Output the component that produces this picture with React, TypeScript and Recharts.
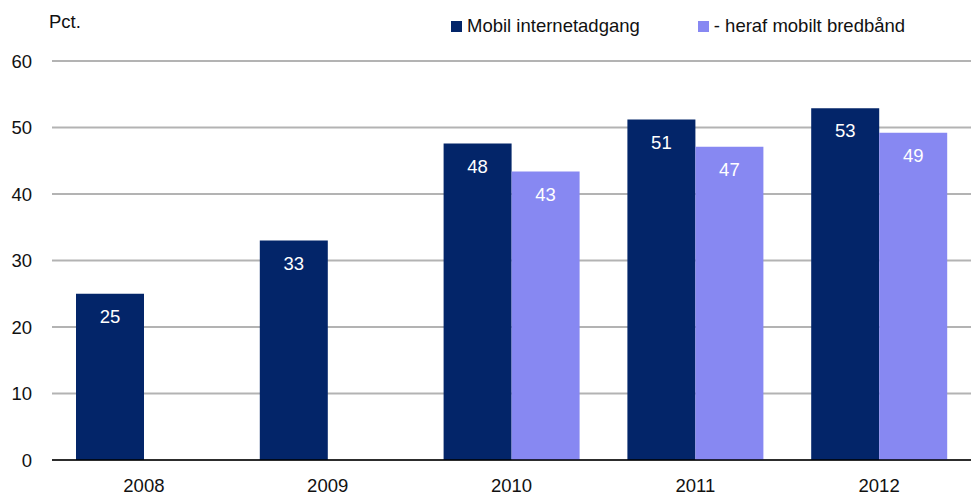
import React from 'react';
import {
  BarChart,
  Bar,
  XAxis,
  YAxis,
  CartesianGrid,
  Legend,
  LabelList
} from 'recharts';

const years = ['2008', '2009', '2010', '2011', '2012'];
const mobilInternet = [25, 33, 47.6, 51.2, 52.9];
const mobiltBredbaand: (number | null)[] = [null, null, 43.4, 47.1, 49.2];
const yTicks = [0, 10, 20, 30, 40, 50, 60];
const seriesOrder = ['mobil', 'bredbaand'];

const FONT = "'Liberation Sans', Arial, sans-serif";
const FS = 18.5;
const DARK = '#032569';
const LIGHT = '#8788f2';

const chartData = years.map((year, i) => ({
  year,
  mobil: mobilInternet[i],
  bredbaand: mobiltBredbaand[i]
}));

const fmt = (v: any) => (v === null || v === undefined ? '' : String(Math.round(Number(v))));

const LegendContent = (props: any) => {
  const items = [...(props.payload || [])].sort(
    (a: any, b: any) => seriesOrder.indexOf(a.dataKey) - seriesOrder.indexOf(b.dataKey)
  );
  return (
    <div style={{ display: 'flex', fontFamily: FONT, fontSize: FS, lineHeight: '20px', color: '#111' }}>
      {items.map((entry: any, i: number) => (
        <div key={i} style={{ display: 'flex', alignItems: 'center', marginRight: i === 0 ? 58 : 0 }}>
          <span style={{ width: 11, height: 11, background: entry.color, display: 'inline-block', marginRight: 5 }} />
          <span>{entry.value}</span>
        </div>
      ))}
    </div>
  );
};

const App: React.FC = () => {
  return (
    <div style={{ position: 'absolute', left: 0, top: 0, width: 974, height: 498, background: '#fff' }}>
      <div
        style={{
          position: 'absolute',
          left: 49,
          top: 12,
          fontFamily: FONT,
          fontSize: FS,
          lineHeight: '20px',
          color: '#111'
        }}
      >
        Pct.
      </div>
      <BarChart
        width={974}
        height={498}
        data={chartData}
        margin={{ top: 61, right: 3, left: 0, bottom: 0 }}
        barCategoryGap={24}
        barGap={0}
      >
        <CartesianGrid vertical={false} stroke="#b3b3b3" strokeWidth={2} />
        <XAxis
          dataKey="year"
          height={38}
          tickLine={false}
          tickSize={0}
          tickMargin={19}
          axisLine={{ stroke: '#000', strokeWidth: 1.5 }}
          tick={{ fill: '#111', fontSize: FS, fontFamily: FONT }}
        />
        <YAxis
          width={52}
          domain={[0, 60]}
          ticks={yTicks}
          axisLine={false}
          tickLine={false}
          tickSize={0}
          tickMargin={20}
          tick={{ fill: '#111', fontSize: FS, fontFamily: FONT }}
        />
        <Legend
          layout="horizontal"
          verticalAlign="middle"
          align="center"
          content={<LegendContent />}
          wrapperStyle={{ top: 16, left: 451, width: 'auto', height: 'auto' }}
        />
        <Bar dataKey="mobil" name="Mobil internetadgang" fill={DARK} isAnimationActive={false}>
          <LabelList
            dataKey="mobil"
            position="insideTop"
            offset={16}
            formatter={fmt}
            fill="#fff"
            style={{ fontSize: FS, fontFamily: FONT }}
          />
        </Bar>
        <Bar dataKey="bredbaand" name="- heraf mobilt bredbånd" fill={LIGHT} isAnimationActive={false}>
          <LabelList
            dataKey="bredbaand"
            position="insideTop"
            offset={16}
            formatter={fmt}
            fill="#fff"
            style={{ fontSize: FS, fontFamily: FONT }}
          />
        </Bar>
      </BarChart>
    </div>
  );
};

export default App;
